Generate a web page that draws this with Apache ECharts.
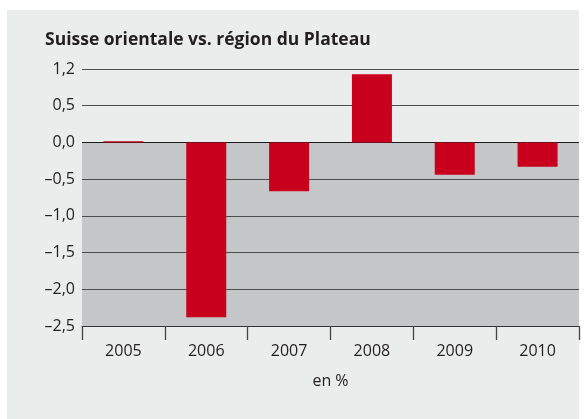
<!DOCTYPE html>
<html>
<head>
<meta charset="utf-8">
<script src="https://cdn.jsdelivr.net/npm/echarts@6/dist/echarts.min.js"></script>
<style>
  html, body { margin: 0; padding: 0; background: #fff; }
  #main { width: 586px; height: 419px; }
</style>
</head>
<body>
<div id="main"></div>
<script>
const years = ['2005', '2006', '2007', '2008', '2009', '2010'];
const values = [0.015, -2.38, -0.665, 0.93, -0.44, -0.33];
// tick labels as printed in the original (top one reads 1,2)
const yTickLabels = ['–2,5', '–2,0', '–1,5', '–1,0', '–0,5', '0,0', '0,5', '1,2'];

const chart = echarts.init(document.getElementById('main'));

const font = '"Open Sans", "Noto Sans", sans-serif';
const bg = '#ebecec';
const lowGray = '#c5c6c8';

const option = {
  animation: false,
  backgroundColor: '#fff',
  graphic: [{
    type: 'rect',
    z: -10,
    shape: { x: 7, y: 10, width: 572, height: 409 },
    style: { fill: bg }
  }],
  title: {
    text: 'Suisse orientale vs. région du Plateau',
    left: 40,
    top: 26,
    textStyle: { fontFamily: font, fontSize: 17.5, fontWeight: 'bold', color: '#231f20' }
  },
  grid: { left: 82, right: 7, top: 69, bottom: 93 },
  xAxis: {
    type: 'category',
    data: years,
    name: 'en %',
    nameLocation: 'middle',
    nameGap: 47,
    nameTextStyle: { fontFamily: font, fontSize: 16, color: '#231f20' },
    axisLine: { onZero: false, lineStyle: { color: '#333', width: 1.2 } },
    axisTick: { show: true, length: 14, lineStyle: { color: '#444', width: 1.3 } },
    axisLabel: { fontFamily: font, fontSize: 16, color: '#231f20', margin: 17 }
  },
  yAxis: {
    type: 'value',
    min: -2.5,
    max: 1,
    interval: 0.5,
    axisLine: { show: false },
    axisTick: { show: false },
    axisLabel: {
      fontFamily: font, fontSize: 16, color: '#231f20', margin: 7,
      formatter: (v, i) => yTickLabels[i]
    },
    splitLine: {
      lineStyle: {
        color: ['#333', '#4d4d4d', '#4d4d4d', '#4d4d4d', '#4d4d4d', '#1a1a1a', '#4d4d4d', '#4d4d4d'],
        width: 1.2
      }
    },
    splitArea: {
      show: true,
      areaStyle: { color: [lowGray, lowGray, lowGray, lowGray, lowGray, bg, bg] }
    }
  },
  series: [{
    type: 'bar',
    data: values,
    barWidth: 40,
    itemStyle: { color: '#c8001e' }
  }]
};

chart.setOption(option);
</script>
</body>
</html>
